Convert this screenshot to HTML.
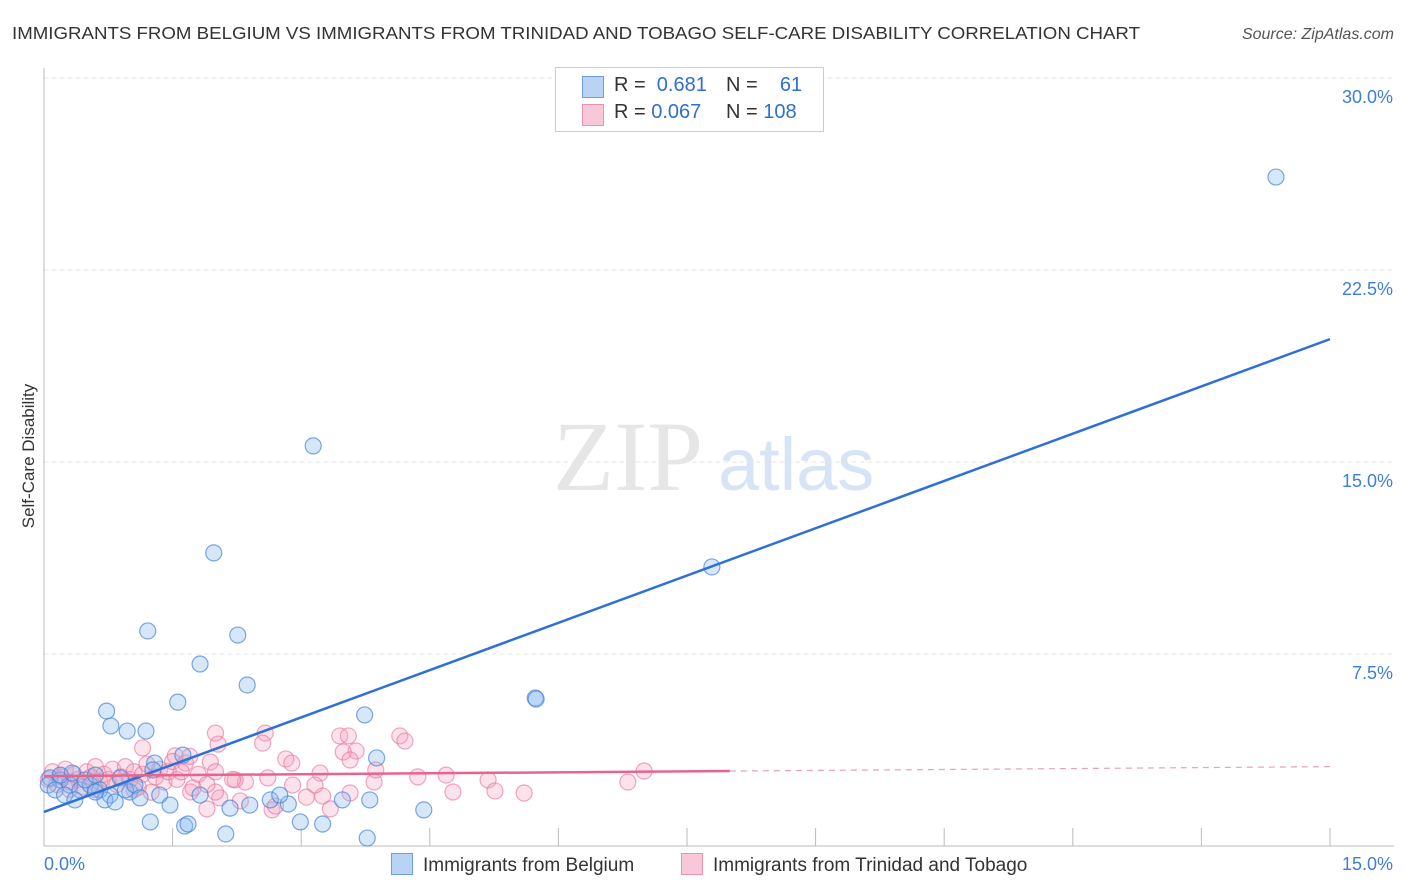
<!DOCTYPE html>
<html><head><meta charset="utf-8"><style>
body{margin:0;background:#fff;font-family:"Liberation Sans",sans-serif;}
#wrap{position:relative;width:1406px;height:892px;overflow:hidden}
</style></head><body>
<div id="wrap">
<svg id="svg" width="1406" height="892" xmlns="http://www.w3.org/2000/svg" style="position:absolute;left:0;top:0">
<text x="12" y="39" font-size="17.5" fill="#333" textLength="1128" lengthAdjust="spacingAndGlyphs">IMMIGRANTS FROM BELGIUM VS IMMIGRANTS FROM TRINIDAD AND TOBAGO SELF-CARE DISABILITY CORRELATION CHART</text>
<text x="1394" y="39" font-size="16" fill="#555" font-style="italic" text-anchor="end">Source: ZipAtlas.com</text>
<text transform="translate(34,456) rotate(-90)" font-size="17" fill="#333" text-anchor="middle">Self-Care Disability</text>
<text x="553" y="490" font-size="100" fill="#e6e6e6" font-family="Liberation Serif,serif">ZIP</text>
<text x="718" y="490" font-size="74" fill="#d6e4f5">atlas</text>
<g id="grid"></g><g id="pts"></g><g id="lines"></g>
</svg>
<div style="position:absolute;left:555px;top:67px;width:267px;height:63px;border:1px solid #ccc;background:#fff;font-size:20px;color:#333">
 <div style="position:absolute;left:26px;top:8px;width:20px;height:20px;background:#b9d3f5;border:1px solid #6c9ee0"></div>
 <div style="position:absolute;left:58px;top:6px">R = <span style="color:#2f6fcf">&nbsp;0.681</span></div>
 <div style="position:absolute;left:170px;top:6px">N = <span style="color:#2f6fcf">&nbsp;&nbsp;&nbsp;61</span></div>
 <div style="position:absolute;left:26px;top:36px;width:20px;height:20px;background:#f9c8d8;border:1px solid #ec91b0"></div>
 <div style="position:absolute;left:58px;top:33px">R = <span style="color:#2f6fcf">0.067</span></div>
 <div style="position:absolute;left:170px;top:33px">N = <span style="color:#2f6fcf">108</span></div>
</div>
<div style="position:absolute;left:391px;top:853px;font-size:19px;color:#333"><span style="display:inline-block;width:20px;height:20px;background:#b9d3f5;border:1px solid #6c9ee0;vertical-align:-4px;margin-right:10px"></span>Immigrants from Belgium</div>
<div style="position:absolute;left:681px;top:853px;font-size:19px;color:#333"><span style="display:inline-block;width:20px;height:20px;background:#f9c8d8;border:1px solid #ec91b0;vertical-align:-4px;margin-right:10px"></span>Immigrants from Trinidad and Tobago</div>
</div>
<script>
const yTicks=[7.5,15,22.5,30];
const yTickLabels=["7.5%","15.0%","22.5%","30.0%"];
const xTickLabels=["0.0%","15.0%"];
const blueX=[14.37,3.14,1.98,7.79,1.21,2.26,1.82,2.37,1.56,0.73,5.73,5.74,3.74,0.78,0.97,1.19,1.62,1.29,3.88,1.27,0.89,0.07,0.19,0.30,0.42,0.54,0.65,0.77,1.0,1.35,1.47,1.82,2.17,2.4,2.64,2.85,3.48,3.8,4.43,1.24,1.64,1.68,2.12,2.99,3.25,3.77,0.05,0.13,0.24,0.36,0.48,0.6,0.71,0.83,0.95,1.06,1.12,0.6,0.19,0.33,2.75];
const blueY=[26.13,15.63,11.45,10.9,8.4,8.24,7.11,6.29,5.62,5.27,5.78,5.74,5.12,4.69,4.49,4.49,3.55,3.24,3.44,2.97,2.66,2.66,2.58,2.38,2.19,2.38,2.19,1.99,2.11,1.99,1.6,1.99,1.48,1.6,1.8,1.64,1.8,1.8,1.41,0.94,0.78,0.86,0.47,0.94,0.86,0.31,2.38,2.19,1.99,1.8,2.58,2.77,1.8,1.72,2.19,2.38,1.88,2.11,2.77,2.85,1.99];
const pinkX=[1.15,2.03,2.0,2.58,2.55,3.45,3.55,3.64,4.15,4.21,3.49,2.82,2.89,1.94,1.53,1.65,3.22,3.57,4.36,4.69,5.18,7.0,6.81,4.77,5.26,5.6,3.85,3.57,3.25,3.06,2.66,2.7,2.29,2.05,2.0,1.9,1.71,1.74,2.35,2.61,2.9,3.16,3.34,3.87,2.23,0.05,0.1,0.15,0.2,0.25,0.3,0.35,0.4,0.45,0.5,0.55,0.6,0.65,0.7,0.75,0.8,0.85,0.9,0.95,1.0,1.05,1.1,1.15,1.2,1.3,1.35,1.4,1.45,1.5,1.55,1.6,1.7,1.8,1.9,2.0,2.2,1.05,0.6,0.3,1.25];
const pinkY=[3.83,3.98,4.41,4.41,4.02,4.3,4.3,3.71,4.3,4.1,3.67,3.4,3.24,3.28,3.52,3.24,2.85,3.36,2.7,2.77,2.58,2.93,2.5,2.11,2.15,2.07,2.5,2.07,1.95,1.91,1.41,1.56,1.76,1.88,2.11,1.45,2.11,2.27,2.5,2.66,2.38,2.38,1.45,2.97,2.58,2.6,2.9,2.4,2.7,3.0,2.5,2.8,2.6,2.3,2.9,2.7,3.1,2.5,2.8,2.6,3.0,2.4,2.7,3.1,2.6,2.9,2.3,2.8,3.2,2.7,3.0,2.5,2.9,3.3,2.6,2.9,3.5,2.8,2.4,2.9,2.6,2.2,2.2,2.2,2.1];
const blueLine=[1.33,19.8];
const pinkLine=[2.73,3.1];
const pinkSolidEnd=8.0;
const X=v=>44+v/15*1286, Y=v=>846-v*25.6;
const NS="http://www.w3.org/2000/svg";
function mk(t,a,p){const e=document.createElementNS(NS,t);for(const k in a)e.setAttribute(k,a[k]);p.appendChild(e);return e;}
const grid=document.getElementById('grid');
yTicks.forEach((t,i)=>{
 const l=mk('line',{x1:44,x2:1394,y1:Y(t),y2:Y(t),stroke:'#e6e6e6','stroke-dasharray':'4,4'},grid);
 
 
 const tx=mk('text',{x:1393,y:Y(t)+25,'font-size':18,fill:'#3d7fd6','text-anchor':'end'},grid);
 tx.textContent=yTickLabels[i];
 
 
});
const ax=mk('line',{x1:44,x2:44,y1:68,y2:846,stroke:'#bbb'},grid);


const bx=mk('line',{x1:44,x2:1394,y1:846,y2:846,stroke:'#bbb'},grid);


for(let i=1;i<=10;i++){const t=mk('line',{x1:X(i*1.5),x2:X(i*1.5),y1:828,y2:846,stroke:'#bbb'},grid);
 
 }
const x0=mk('text',{x:44,y:870,'font-size':18,fill:'#3d7fd6'},grid);x0.textContent=xTickLabels[0];


const x1=mk('text',{x:1393,y:870,'font-size':18,fill:'#3d7fd6','text-anchor':'end'},grid);x1.textContent=xTickLabels[1];


const pts=document.getElementById('pts');
pinkX.forEach((v,i)=>{const c=mk('circle',{cx:X(v),cy:Y(pinkY[i]),r:8,fill:'rgba(244,160,188,0.3)',stroke:'rgba(232,110,150,0.6)','stroke-width':1.2},pts);
 
 });
blueX.forEach((v,i)=>{const c=mk('circle',{cx:X(v),cy:Y(blueY[i]),r:8,fill:'rgba(140,185,240,0.35)',stroke:'rgba(70,130,215,0.7)','stroke-width':1.2},pts);
 
 });
const lines=document.getElementById('lines');
const bl=mk('line',{x1:X(0),y1:Y(blueLine[0]),x2:X(15),y2:Y(blueLine[1]),stroke:'#2f6fd6','stroke-width':2.5},lines);


const pm=pinkLine[0]+(pinkLine[1]-pinkLine[0])*pinkSolidEnd/15;
const pl=mk('line',{x1:X(0),y1:Y(pinkLine[0]),x2:X(pinkSolidEnd),y2:Y(pm),stroke:'#e8648e','stroke-width':2.5},lines);


const pd=mk('line',{x1:X(pinkSolidEnd),y1:Y(pm),x2:X(15),y2:Y(pinkLine[1]),stroke:'#e8a0b8','stroke-width':1.2,'stroke-dasharray':'6,5'},lines);


</script>
</body></html>
